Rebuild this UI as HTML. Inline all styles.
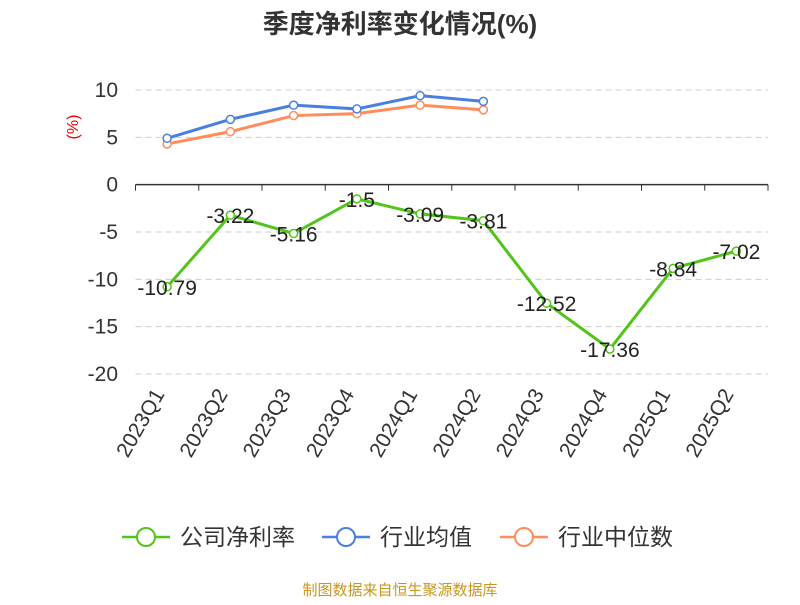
<!DOCTYPE html>
<html><head><meta charset="utf-8"><style>
body{margin:0;background:#fff;font-family:"Liberation Sans","Noto Sans CJK SC",sans-serif}
</style></head><body>
<svg width="800" height="600" xmlns="http://www.w3.org/2000/svg" font-family="Liberation Sans, Noto Sans CJK SC, sans-serif">
<text x="400" y="33" text-anchor="middle" font-size="26" font-weight="bold" fill="#333">季度净利率变化情况(%)</text>
<text x="78" y="127" fill="#e00" font-size="16" text-anchor="middle" transform="rotate(-90 78 127)">(%)</text>
<g id="grid"></g><g id="series"></g>
<g font-size="23" fill="#333">
<g><line x1="122" y1="537" x2="170" y2="537" stroke="#52c41a" stroke-width="2.5"/><circle cx="146" cy="537" r="9" fill="#fff" stroke="#52c41a" stroke-width="2"/><text x="180" y="545">公司净利率</text></g>
<g><line x1="322" y1="537" x2="370" y2="537" stroke="#4a7fe0" stroke-width="2.5"/><circle cx="346" cy="537" r="9" fill="#fff" stroke="#4a7fe0" stroke-width="2"/><text x="380" y="545">行业均值</text></g>
<g><line x1="500" y1="537" x2="548" y2="537" stroke="#ff8c5a" stroke-width="2.5"/><circle cx="524" cy="537" r="9" fill="#fff" stroke="#ff8c5a" stroke-width="2"/><text x="558" y="545">行业中位数</text></g>
</g>
<text x="400" y="595" text-anchor="middle" font-size="15" fill="#c8961e">制图数据来自恒生聚源数据库</text>
</svg>
<script>
const categories=["2023Q1","2023Q2","2023Q3","2023Q4","2024Q1","2024Q2","2024Q3","2024Q4","2025Q1","2025Q2"];
const company=[-10.79,-3.22,-5.16,-1.5,-3.09,-3.81,-12.52,-17.36,-8.84,-7.02];
const industryAvg=[4.9,6.9,8.4,8.0,9.4,8.8];
const industryMedian=[4.3,5.6,7.3,7.5,8.4,7.9];
const yTicks=[10,5,0,-5,-10,-15,-20];
const NS="http://www.w3.org/2000/svg";
const x0=135.5,x1=768,yTop=90,yBot=374,yMax=10,yMin=-20;
const bw=(x1-x0)/categories.length;
const X=i=>x0+bw*(i+0.5);
const Y=v=>yTop+(yMax-v)/(yMax-yMin)*(yBot-yTop);
function mk(tag,attrs,parent){const e=document.createElementNS(NS,tag);for(const k in attrs)e.setAttribute(k,attrs[k]);parent.appendChild(e);return e;}
const grid=document.getElementById('grid'),ser=document.getElementById('series');
yTicks.forEach(t=>{
 if(t!==0){const l=mk('line',{x1:x0,x2:x1,y1:Y(t),y2:Y(t),stroke:'#ccc','stroke-dasharray':'6,4'},grid);
 
 }
 const tx=mk('text',{x:118,y:Y(t)+7,'text-anchor':'end','font-size':21,fill:'#333'},grid);tx.textContent=t;
 
 
});
const ax=mk('line',{x1:x0,x2:x1,y1:Y(0),y2:Y(0),stroke:'#333','stroke-width':1.5},grid);


for(let i=0;i<=categories.length;i++){const tk=mk('line',{x1:x0+bw*i,x2:x0+bw*i,y1:Y(0),y2:Y(0)+6,stroke:'#333'},grid);
 
 }
categories.forEach((c,i)=>{const tx0=X(i)-2,ty0=394;const t=mk('text',{x:tx0,y:ty0,'text-anchor':'end','font-size':21,fill:'#333',transform:`rotate(-60 ${tx0} ${ty0})`},grid);t.textContent=c;
 
 });
function series(data,color,name,labels){
 const p=mk('polyline',{points:data.map((v,i)=>X(i)+','+Y(v)).join(' '),fill:'none',stroke:color,'stroke-width':3},ser);
 
 
 data.forEach((v,i)=>{const c=mk('circle',{cx:X(i),cy:Y(v),r:4,fill:'#fff',stroke:color,'stroke-width':1.5},ser);
  
  
  if(labels){const t=mk('text',{x:X(i),y:Y(v)+8,'text-anchor':'middle','font-size':21,fill:'#222'},ser);t.textContent=v;
   
   }
 });
}
series(industryMedian,'#ff8c5a','industry-median',false);
series(industryAvg,'#4a7fe0','industry-avg',false);
series(company,'#52c41a','company',true);
</script>
</body></html>
